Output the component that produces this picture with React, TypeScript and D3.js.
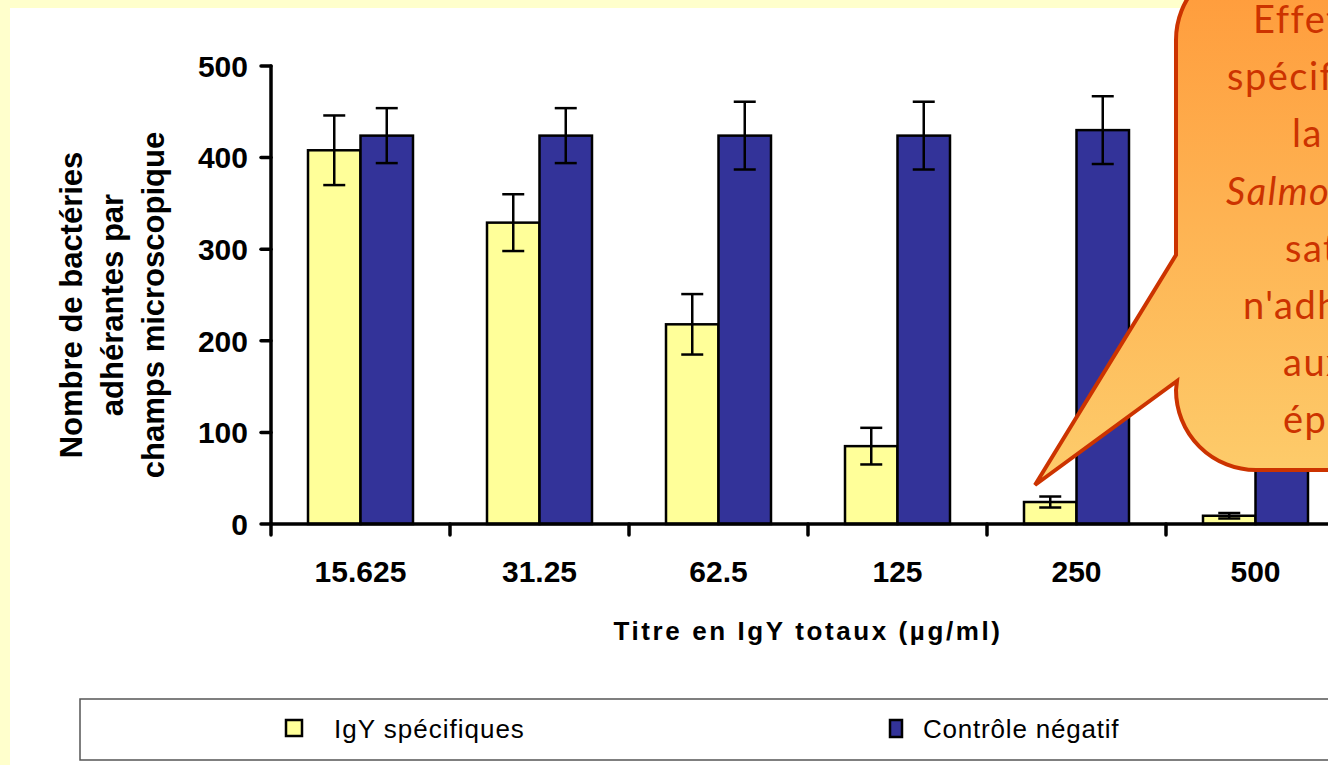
import React from "react"
import * as d3 from "d3"

const WIDTH = 1328
const HEIGHT = 765
const AXIS_FONT = "'Liberation Sans', Arial, Helvetica, sans-serif"
const CALLOUT_FONT = "'Comic Sans MS', Lato, 'Open Sans', sans-serif"

const categories = ["15.625", "31.25", "62.5", "125", "250", "500"]
const series = ["IgY spécifiques", "Contrôle négatif"]
const igyValues = [408, 329, 218, 85, 24, 9]
const igyErrors = [38, 31, 33, 20, 6, 3]
const ctrlValues = [424, 424, 424, 424, 430, 425]
const ctrlErrors = [30, 30, 37, 37, 37, 35]
const yTicks = [0, 100, 200, 300, 400, 500]
const seriesColors = ["#FFFF99", "#333399"]

const yTitle = ["Nombre de bactéries", "adhérantes par", "champs microscopique"]
const xTitle = "Titre en IgY totaux (µg/ml)"

// callout lines, only their left part is visible in the frame
const calloutLines = [
    { text: "Effet", x: 1253, italic: false },
    { text: "spécifique :", x: 1227, italic: false },
    { text: "la", x: 1292, italic: false },
    { text: "Salmonella", x: 1226, italic: true },
    { text: "saturée", x: 1285, italic: false },
    { text: "n'adhère plus", x: 1243, italic: false },
    { text: "aux cellules", x: 1283, italic: false },
    { text: "épithéliales", x: 1283, italic: false },
]

const MARGIN = { left: 271, top: 66, bottom: 524 }
const STEP = 179

export default function App() {
    const xScale = d3
        .scaleBand()
        .domain(categories)
        .range([MARGIN.left, MARGIN.left + STEP * categories.length])
    const xSub = d3
        .scaleBand()
        .domain(series)
        .range([0, xScale.bandwidth()])
        .paddingOuter(0.705)
    const yScale = d3.scaleLinear().domain([0, 500]).range([MARGIN.bottom, MARGIN.top])

    const data = categories.map((c, i) => ({
        cat: c,
        vals: [
            { s: series[0], v: igyValues[i], e: igyErrors[i], color: seriesColors[0] },
            { s: series[1], v: ctrlValues[i], e: ctrlErrors[i], color: seriesColors[1] },
        ],
    }))

    const bars = data.map((d, i) => (
        <g key={i}>
            {d.vals.map((b, j) => {
                const x0 = (xScale(d.cat) || 0) + (xSub(b.s) || 0)
                const bw = xSub.bandwidth()
                return (
                    <rect
                        key={j}
                        x={x0}
                        y={yScale(b.v)}
                        width={bw}
                        height={yScale(0) - yScale(b.v)}
                        fill={b.color}
                        stroke="#000"
                        strokeWidth={2.5}
                    />
                )
            })}
        </g>
    ))

    const errors = data.map((d, i) => (
        <g key={i} stroke="#000" strokeWidth={2.5}>
            {d.vals.map((b, j) => {
                const cx = (xScale(d.cat) || 0) + (xSub(b.s) || 0) + xSub.bandwidth() / 2
                const hi = yScale(b.v + b.e)
                const lo = yScale(Math.max(0, b.v - b.e))
                return (
                    <g key={j}>
                        <line x1={cx} x2={cx} y1={hi} y2={lo} />
                        <line x1={cx - 11} x2={cx + 11} y1={hi} y2={hi} />
                        <line x1={cx - 11} x2={cx + 11} y1={lo} y2={lo} />
                    </g>
                )
            })}
        </g>
    ))

    const calloutPath =
        "M1176,255 L1035,485 L1177,381 L1176,390 A80,80 0 0 0 1256,470 L1400,470 L1400,-40 L1256,-40 A80,80 0 0 0 1176,40 Z"

    return (
        <svg
            width={WIDTH}
            height={HEIGHT}
            style={{ position: "absolute", left: 0, top: 0 }}
        >
            <defs>
                <linearGradient
                    id="calloutFill"
                    gradientUnits="userSpaceOnUse"
                    x1={0}
                    y1={-40}
                    x2={0}
                    y2={470}
                >
                    <stop offset="0%" stopColor="#FF9A3A" />
                    <stop offset="100%" stopColor="#FDCB6A" />
                </linearGradient>
            </defs>
            <rect x={0} y={0} width={WIDTH} height={HEIGHT} fill="#FFFFCC" />
            <rect x={10} y={8} width={WIDTH - 10} height={HEIGHT - 8} fill="#fff" />

            {/* y title */}
            <g
                fontFamily={AXIS_FONT}
                fontWeight="bold"
                fontSize={31}
                textAnchor="middle"
                fill="#000"
            >
                {yTitle.map((t, i) => (
                    <text key={i} transform={`translate(${82 + i * 41},305) rotate(-90)`}>
                        {t}
                    </text>
                ))}
            </g>

            {bars}
            {errors}

            {/* y axis */}
            <g stroke="#000" strokeLinecap="round">
                <line x1={MARGIN.left} x2={MARGIN.left} y1={yScale(500)} y2={535} strokeWidth={3.5} />
                {yTicks.map((t) => (
                    <line key={t} x1={261} x2={MARGIN.left} y1={yScale(t)} y2={yScale(t)} strokeWidth={3.5} />
                ))}
            </g>
            <g fontFamily={AXIS_FONT} fontWeight="bold" fontSize={30} textAnchor="end">
                {yTicks.map((t) => (
                    <text key={t} x={248} y={yScale(t)} dy="0.36em">
                        {t}
                    </text>
                ))}
            </g>

            {/* x axis */}
            <g stroke="#000" strokeLinecap="round">
                <line x1={MARGIN.left} x2={WIDTH + 20} y1={yScale(0)} y2={yScale(0)} strokeWidth={3.5} />
                {categories.map((c) => (
                    <line
                        key={c}
                        x1={(xScale(c) || 0) + STEP}
                        x2={(xScale(c) || 0) + STEP}
                        y1={yScale(0)}
                        y2={535}
                        strokeWidth={3.5}
                    />
                ))}
            </g>
            <g fontFamily={AXIS_FONT} fontWeight="bold" fontSize={30} textAnchor="middle">
                {categories.map((c) => (
                    <text key={c} x={(xScale(c) || 0) + xScale.bandwidth() / 2} y={582}>
                        {c}
                    </text>
                ))}
            </g>
            <text
                x={808}
                y={640}
                fontFamily={AXIS_FONT}
                fontWeight="bold"
                fontSize={26}
                letterSpacing={2.6}
                textAnchor="middle"
            >
                {xTitle}
            </text>

            {/* legend */}
            <rect x={80} y={699} width={1300} height={61} fill="#fff" stroke="#555" strokeWidth={1.5} />
            <rect x={286} y={720} width={16} height={16} fill={seriesColors[0]} stroke="#000" strokeWidth={2.5} />
            <text x={334} y={738} fontFamily={AXIS_FONT} fontSize={26} letterSpacing={1}>
                {series[0]}
            </text>
            <rect x={890} y={720} width={12} height={17} fill={seriesColors[1]} stroke="#000" strokeWidth={2.5} />
            <text x={923} y={738} fontFamily={AXIS_FONT} fontSize={26} letterSpacing={0.8}>
                {series[1]}
            </text>

            {/* callout */}
            <path d={calloutPath} fill="url(#calloutFill)" stroke="#CC3300" strokeWidth={4} />
            <g fontFamily={CALLOUT_FONT} fontSize={38} fill="#CC3300" letterSpacing={1.5}>
                {calloutLines.map((l, i) => (
                    <text
                        key={i}
                        x={l.x}
                        y={33 + i * 57.2}
                        fontStyle={l.italic ? "italic" : "normal"}
                    >
                        {l.text}
                    </text>
                ))}
            </g>
        </svg>
    )
}
